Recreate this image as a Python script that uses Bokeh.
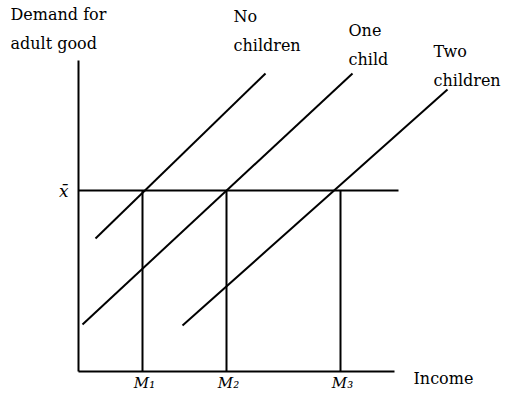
from bokeh.plotting import figure
from bokeh.models import Range1d
from bokeh.embed import file_html
from bokeh.resources import INLINE
from bokeh.core.properties import value

# ---- data (chart units: income on x, demand for adult good on y) ----
x_bar = 181
x_bar_label = "x̄"
income_levels = [64, 148, 262]
income_labels = ["M₁", "M₂", "M₃"]
curve_names = ["No\nchildren", "One\nchild", "Two\nchildren"]
curve_x0 = [17, 4, 104]
curve_y0 = [133, 47, 46]
curve_x1 = [187, 274, 369]
curve_y1 = [298, 298, 282]
x_axis_max = 316
y_axis_max = 311
hline_max = 320
x_title = "Income"
y_title = "Demand for\nadult good"

FONT = value("DejaVu Serif")

p = figure(width=507, height=392, output_backend="svg", toolbar_location=None,
           x_range=Range1d(-78, 429), y_range=Range1d(-21, 371),
           x_axis_type=None, y_axis_type=None, min_border=0)
p.outline_line_color = None
p.grid.visible = False

# axes
p.segment(x0=[0, 0], y0=[0, 0], x1=[x_axis_max, 0], y1=[0, y_axis_max],
          line_color="black", line_width=2)
# x-bar horizontal
p.segment(x0=[0], y0=[x_bar], x1=[hline_max], y1=[x_bar], line_color="black", line_width=2)
# vertical drops at income levels
p.segment(x0=income_levels, y0=[0] * 3, x1=income_levels, y1=[x_bar] * 3,
          line_color="black", line_width=2)
# demand curves
p.segment(x0=curve_x0, y0=curve_y0, x1=curve_x1, y1=curve_y1,
          line_color="black", line_width=2)

# curve labels (placed near the upper end of each curve)
lab_x = [x1 + dx for x1, dx in zip(curve_x1, [-32, -4, -14])]
lab_y = [y1 + dy for y1, dy in zip(curve_y1, [67, 53, 48])]
p.text(x=lab_x, y=lab_y, text=curve_names, text_font=FONT, text_font_size="16px",
       text_baseline="top", text_align="left", text_line_height=1.55, text_color="black")

# axis titles
p.text(x=[-68], y=[y_axis_max + 56], text=[y_title], text_font=FONT, text_font_size="16px",
       text_baseline="top", text_align="left", text_line_height=1.55, text_color="black")
p.text(x=[x_axis_max + 19], y=[-7], text=[x_title], text_font=FONT, text_font_size="16px",
       text_baseline="middle", text_align="left", text_color="black")

# tick labels
p.text(x=[v + 2 for v in income_levels], y=[-2] * 3, text=income_labels, text_font=FONT,
       text_font_size="15px", text_font_style="italic", text_baseline="top",
       text_align="center", text_color="black")
p.text(x=[-10], y=[x_bar], text=[x_bar_label], text_font=FONT, text_font_size="17px",
       text_font_style="italic", text_baseline="middle", text_align="right", text_color="black")

open("out.html", "w").write(file_html(p, INLINE))
